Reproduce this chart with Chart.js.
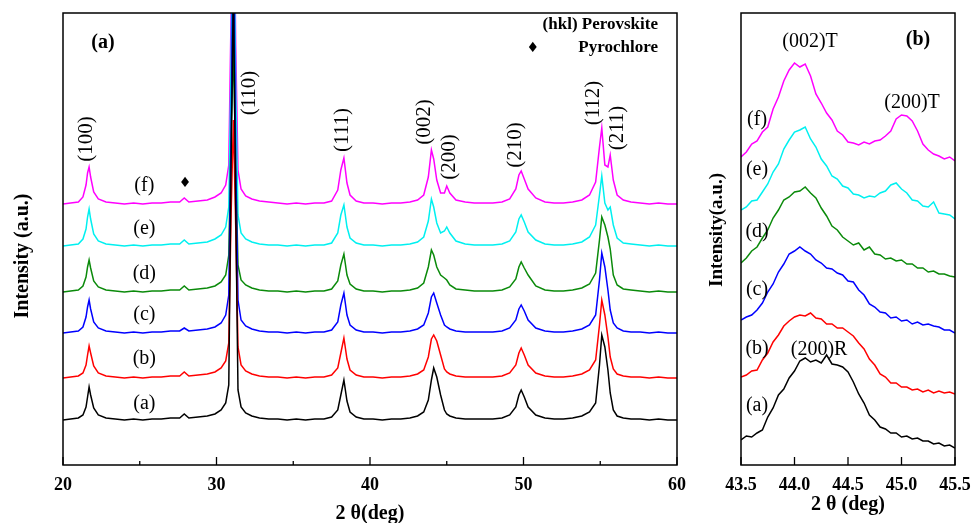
<!DOCTYPE html>
<html>
<head>
<meta charset="utf-8">
<script src="https://cdn.jsdelivr.net/npm/chart.js@4"></script>
<style>
  body { margin: 0; background: #fff; }
  #wrap { position: relative; width: 974px; height: 523px; }
  canvas { position: absolute; top: 0; }
</style>
</head>
<body>
<div id="wrap">
  <canvas id="chartA" width="700" height="523" style="left:0"></canvas>
  <canvas id="chartB" width="274" height="523" style="left:700px"></canvas>
</div>
<script>
// ---- panel (a): full pattern, 2θ in degrees ----
const twoThetaA = [20.0, 20.5, 21.0, 21.3, 21.5, 21.6, 21.7, 21.8, 22.0, 22.3, 22.8,
  23.4, 24.0, 24.6, 25.2, 25.8, 26.4, 27.0, 27.6, 27.9, 28.2, 28.8,
  29.4, 29.9, 30.3, 30.6, 30.8, 30.95, 31.1, 31.25, 31.4, 31.6, 31.9,
  32.3, 32.8, 33.4, 34.0, 34.6, 35.2, 35.8, 36.4, 37.0, 37.5, 37.9,
  38.1, 38.3, 38.5, 38.7, 39.1, 39.6, 40.2, 40.8, 41.4, 42.0, 42.6,
  43.1, 43.5, 43.8, 44.0, 44.15, 44.35, 44.6, 44.85, 45.0, 45.2, 45.6,
  46.2, 46.8, 47.4, 48.0, 48.6, 49.1, 49.5, 49.7, 49.85, 50.05, 50.3,
  50.8, 51.4, 52.0, 52.6, 53.2, 53.8, 54.3, 54.7, 54.95, 55.1, 55.3,
  55.5, 55.65, 55.85, 56.1, 56.5, 57.0, 57.6, 58.2, 58.8, 59.4, 60.0];

const patternA_a = [45, 46, 47, 50, 58, 68, 78, 70, 57, 50, 47,
  46, 45, 46, 45, 46, 46, 47, 47, 51, 47, 48,
  49, 51, 55, 62, 80, 300, 480, 260, 75, 58, 52,
  49, 47, 46, 46, 45, 46, 45, 46, 46, 48, 55,
  70, 85, 64, 53, 48, 46, 46, 45, 46, 46, 47,
  49, 53, 65, 85, 97, 88, 70, 55, 51, 49, 47,
  46, 46, 46, 46, 47, 50, 58, 70, 75, 68, 58,
  50, 47, 46, 46, 47, 49, 53, 62, 100, 130, 118,
  95, 72, 55, 49, 47, 46, 46, 45, 46, 45, 45];
const patternA_b = [87, 88, 89, 92, 100, 110, 119, 112, 99, 92, 89,
  88, 87, 88, 87, 88, 88, 89, 89, 93, 89, 90,
  91, 93, 97, 104, 122, 250, 345, 240, 118, 100, 94,
  91, 89, 88, 88, 87, 88, 87, 88, 88, 90, 97,
  112, 127, 106, 95, 90, 88, 88, 87, 88, 88, 89,
  91, 95, 108, 126, 130, 124, 110, 96, 93, 91, 89,
  88, 88, 88, 88, 89, 92, 100, 112, 117, 110, 100,
  92, 89, 88, 88, 89, 91, 95, 105, 140, 165, 150,
  128, 108, 96, 91, 89, 88, 88, 87, 88, 87, 87];
const patternA_c = [132, 133, 134, 138, 148, 158, 165, 156, 143, 137, 134,
  133, 132, 133, 132, 133, 133, 134, 134, 137, 134, 135,
  136, 138, 142, 150, 170, 330, 560, 300, 165, 145, 139,
  136, 134, 133, 133, 132, 133, 132, 133, 133, 135, 143,
  160, 172, 150, 140, 135, 133, 133, 132, 133, 133, 134,
  136, 140, 152, 168, 172, 162, 150, 140, 138, 136, 134,
  133, 133, 133, 133, 134, 137, 145, 156, 160, 154, 145,
  137, 134, 133, 133, 134, 136, 140, 150, 185, 212, 198,
  175, 155, 142, 137, 134, 133, 133, 132, 133, 132, 132];
const patternA_d = [173, 174, 175, 179, 188, 198, 205, 197, 184, 178, 175,
  174, 173, 174, 173, 174, 174, 175, 175, 179, 175, 176,
  177, 179, 183, 190, 210, 330, 418, 300, 200, 185, 180,
  177, 175, 174, 174, 173, 174, 173, 174, 174, 176, 184,
  200, 211, 190, 181, 176, 174, 174, 173, 174, 174, 175,
  177, 182, 198, 215, 210, 198, 190, 187, 185, 180, 176,
  175, 174, 174, 174, 175, 178, 186, 198, 203, 197, 190,
  179, 175, 174, 174, 175, 177, 181, 192, 225, 248, 240,
  228, 216, 190, 180, 176, 175, 174, 173, 174, 173, 173];
const patternA_e = [219, 220, 221, 226, 236, 248, 256, 246, 231, 224, 221,
  220, 219, 220, 219, 220, 220, 221, 221, 225, 221, 222,
  223, 226, 230, 238, 258, 400, 600, 380, 250, 232, 226,
  223, 221, 220, 220, 219, 220, 219, 220, 220, 222, 232,
  250, 260, 238, 227, 222, 220, 220, 219, 220, 220, 221,
  223, 228, 244, 266, 258, 242, 232, 234, 238, 232, 224,
  221, 220, 220, 220, 221, 224, 233, 246, 250, 243, 233,
  225, 221, 220, 220, 221, 223, 228, 240, 270, 289, 262,
  255, 258, 240, 227, 222, 221, 220, 219, 220, 219, 219];
const patternA_f = [261, 262, 263, 268, 280, 292, 298, 288, 273, 266, 263,
  262, 261, 262, 261, 262, 262, 263, 263, 267, 263, 264,
  265, 268, 272, 280, 300, 450, 650, 420, 295, 276, 269,
  266, 264, 263, 262, 261, 262, 261, 262, 262, 264, 275,
  295, 307, 282, 270, 264, 262, 262, 261, 262, 262, 263,
  265, 270, 288, 315, 306, 285, 272, 272, 279, 272, 265,
  263, 262, 262, 262, 263, 266, 276, 290, 294, 286, 276,
  267, 263, 262, 262, 263, 265, 270, 283, 318, 337, 300,
  298, 310, 285, 270, 265, 263, 262, 261, 262, 261, 261];

const xTicksA = [20, 25, 30, 35, 40, 45, 50, 55, 60];
const xTickLabelsA = ['20', '', '30', '', '40', '', '50', '', '60'];

// ---- panel (b): zoom on 43.5-45.5 ----
const twoThetaB = [43.50, 43.55, 43.60, 43.65, 43.70, 43.75, 43.80, 43.85, 43.90, 43.95,
  44.00, 44.05, 44.10, 44.15, 44.20, 44.25, 44.30, 44.35, 44.40, 44.45,
  44.50, 44.55, 44.60, 44.65, 44.70, 44.75, 44.80, 44.85, 44.90, 44.95,
  45.00, 45.05, 45.10, 45.15, 45.20, 45.25, 45.30, 45.35, 45.40, 45.45, 45.50];

const patternB_a = [25, 29, 28, 32, 35, 48, 57, 70, 76, 87, 94, 104, 107, 103, 105, 102, 110, 101, 100, 98,
  93, 83, 71, 62, 50, 45, 38, 36, 32, 32, 28, 29, 26, 27, 24, 24, 21, 22, 19, 20, 17];
const patternB_b = [88, 90, 94, 95, 105, 112, 123, 130, 139, 144, 148, 150, 149, 152, 147, 146, 141, 141, 137, 137,
  133, 129, 122, 116, 106, 100, 91, 88, 82, 82, 78, 78, 75, 76, 73, 75, 72, 74, 72, 73, 71];
const patternB_c = [145, 148, 150, 155, 162, 173, 181, 193, 201, 211, 214, 218, 214, 211, 205, 202, 197, 196, 192, 190,
  184, 183, 175, 170, 161, 158, 153, 152, 147, 148, 144, 145, 141, 143, 140, 141, 139, 138, 135, 135, 132];
const patternB_d = [202, 207, 214, 218, 227, 235, 247, 255, 265, 268, 273, 274, 278, 272, 267, 257, 249, 239, 235, 228,
  224, 220, 222, 215, 218, 211, 210, 206, 207, 204, 205, 201, 201, 197, 197, 193, 194, 191, 191, 189, 188];
const patternB_e = [255, 258, 264, 265, 273, 281, 293, 301, 316, 325, 333, 335, 338, 326, 318, 306, 299, 289, 286, 279,
  277, 271, 270, 267, 269, 268, 272, 274, 280, 282, 276, 272, 265, 264, 259, 258, 263, 252, 251, 250, 246];
const patternB_f = [308, 313, 321, 324, 333, 338, 356, 368, 384, 395, 402, 398, 401, 389, 371, 362, 352, 345, 334, 330,
  323, 322, 320, 323, 321, 324, 325, 329, 334, 346, 350, 349, 344, 334, 321, 315, 311, 309, 306, 308, 304];

const xTicksB = [43.5, 44.0, 44.5, 45.0, 45.5];
const xTickLabelsB = ['43.5', '44.0', '44.5', '45.0', '45.5'];

const sampleNames = ['(a)', '(b)', '(c)', '(d)', '(e)', '(f)'];
const colors = ['#000000', '#ff0000', '#0000ff', '#0a8a0a', '#00f0f0', '#ff00ff'];

const SERIF = '"Liberation Serif", "Times New Roman", serif';

function pts(xs, ys) {
  return xs.map((x, i) => ({ x: x, y: ys[i] }));
}

function makeDatasets(xs, list) {
  return list.map((ys, i) => ({
    label: sampleNames[i],
    data: pts(xs, ys),
    borderColor: colors[i],
    borderWidth: 1.5,
    pointRadius: 0,
    tension: 0,
    fill: false
  }));
}

// frame, inward tick marks and free text
const decoPlugin = {
  id: 'deco',
  afterDraw(chart, args, opts) {
    const ctx = chart.ctx;
    const area = chart.chartArea;
    const xs = chart.scales.x;
    const ys = chart.scales.y;
    ctx.save();
    ctx.strokeStyle = '#000';
    ctx.lineWidth = 1.5;
    ctx.strokeRect(area.left, area.top, area.right - area.left, area.bottom - area.top);
    ctx.lineWidth = 1.3;
    opts.ticks.forEach((v, i) => {
      const px = xs.getPixelForValue(v);
      const len = opts.labels[i] ? 8 : 4;
      ctx.beginPath();
      ctx.moveTo(px, area.bottom);
      ctx.lineTo(px, area.bottom - len);
      ctx.stroke();
    });
    ctx.fillStyle = '#000';
    ctx.textBaseline = 'middle';
    opts.texts.forEach(t => {
      const px = t.px !== undefined ? t.px : xs.getPixelForValue(t.x);
      const py = t.py !== undefined ? t.py : ys.getPixelForValue(t.y);
      ctx.save();
      ctx.translate(px, py);
      if (t.rot) ctx.rotate(t.rot);
      ctx.font = t.font;
      ctx.textAlign = t.align || 'center';
      ctx.fillText(t.text, 0, 0);
      ctx.restore();
    });
    ctx.restore();
  }
};

const hklFont = '21px ' + SERIF;
const tagFont = '20px ' + SERIF;
const UP = -Math.PI / 2;

function fitX(s) {
  s.height = 58;
  s.paddingLeft = 0;
  s.paddingRight = 0;
}

new Chart(document.getElementById('chartA'), {
  type: 'line',
  data: {
    datasets: makeDatasets(twoThetaA, [patternA_a, patternA_b, patternA_c, patternA_d, patternA_e, patternA_f])
  },
  options: {
    responsive: false,
    animation: false,
    layout: { padding: { left: 63, right: 23, top: 13, bottom: 0 } },
    plugins: {
      legend: { display: false },
      tooltip: { enabled: false },
      deco: {
        ticks: xTicksA,
        labels: xTickLabelsA,
        texts: [
          { text: 'Intensity (a.u.)', px: 23, py: 256, rot: UP, font: 'bold 20px ' + SERIF },
          { text: '(a)', x: 22.6, y: 422, font: 'bold 20px ' + SERIF },
          { text: '(hkl) Perovskite', x: 58.76, y: 440, align: 'right', font: 'bold 17px ' + SERIF },
          { text: 'Pyrochlore', x: 58.76, y: 417, align: 'right', font: 'bold 17px ' + SERIF },
          { text: '\u2666', x: 50.6, y: 417, font: '14px "DejaVu Sans"' },
          { text: '\u2666', x: 27.95, y: 282, font: '14px "DejaVu Sans"' },
          { text: '(100)', x: 21.56, y: 326, rot: UP, font: hklFont },
          { text: '(110)', x: 32.18, y: 372, rot: UP, font: hklFont },
          { text: '(111)', x: 38.24, y: 335, rot: UP, font: hklFont },
          { text: '(002)', x: 43.58, y: 343, rot: UP, font: hklFont },
          { text: '(200)', x: 45.21, y: 308, rot: UP, font: hklFont },
          { text: '(210)', x: 49.45, y: 320, rot: UP, font: hklFont },
          { text: '(112)', x: 54.53, y: 362, rot: UP, font: hklFont },
          { text: '(211)', x: 56.1, y: 337, rot: UP, font: hklFont },
          { text: '(f)', x: 25.3, y: 279, font: tagFont },
          { text: '(e)', x: 25.3, y: 236, font: tagFont },
          { text: '(d)', x: 25.3, y: 191, font: tagFont },
          { text: '(c)', x: 25.3, y: 150, font: tagFont },
          { text: '(b)', x: 25.3, y: 106, font: tagFont },
          { text: '(a)', x: 25.3, y: 61, font: tagFont }
        ]
      }
    },
    scales: {
      x: {
        type: 'linear',
        min: 20,
        max: 60,
        afterBuildTicks: s => { s.ticks = xTicksA.map(v => ({ value: v })); },
        afterFit: fitX,
        grid: { display: false, drawTicks: false },
        border: { display: false },
        ticks: {
          autoSkip: false,
          maxRotation: 0,
          padding: 10,
          color: '#000',
          font: { family: SERIF, size: 18, weight: 'bold' },
          callback: (v, i) => xTickLabelsA[i]
        },
        title: {
          display: true,
          text: '2 \u03b8(deg)',
          color: '#000',
          font: { family: SERIF, size: 20, weight: 'bold' },
          padding: { top: 0, bottom: -3 }
        }
      },
      y: { display: false, min: 0, max: 452 }
    }
  },
  plugins: [decoPlugin]
});

new Chart(document.getElementById('chartB'), {
  type: 'line',
  data: {
    datasets: makeDatasets(twoThetaB, [patternB_a, patternB_b, patternB_c, patternB_d, patternB_e, patternB_f])
  },
  options: {
    responsive: false,
    animation: false,
    layout: { padding: { left: 41, right: 19, top: 13, bottom: 0 } },
    plugins: {
      legend: { display: false },
      tooltip: { enabled: false },
      deco: {
        ticks: xTicksB,
        labels: xTickLabelsB,
        texts: [
          { text: 'Intensity(a.u.)', px: 17, py: 230, rot: UP, font: 'bold 19px ' + SERIF },
          { text: '(002)T', x: 44.145, y: 423, font: tagFont },
          { text: '(b)', x: 45.154, y: 425, font: 'bold 20px ' + SERIF },
          { text: '(200)T', x: 45.098, y: 362, font: tagFont },
          { text: '(200)R', x: 44.23, y: 115, font: tagFont },
          { text: '(f)', x: 43.65, y: 345, font: tagFont },
          { text: '(e)', x: 43.65, y: 295, font: tagFont },
          { text: '(d)', x: 43.65, y: 233, font: tagFont },
          { text: '(c)', x: 43.65, y: 175, font: tagFont },
          { text: '(b)', x: 43.65, y: 116, font: tagFont },
          { text: '(a)', x: 43.65, y: 59, font: tagFont }
        ]
      }
    },
    scales: {
      x: {
        type: 'linear',
        min: 43.5,
        max: 45.5,
        afterBuildTicks: s => { s.ticks = xTicksB.map(v => ({ value: v })); },
        afterFit: fitX,
        grid: { display: false, drawTicks: false },
        border: { display: false },
        ticks: {
          autoSkip: false,
          maxRotation: 0,
          padding: 10,
          color: '#000',
          font: { family: SERIF, size: 18, weight: 'bold' },
          callback: (v, i) => xTickLabelsB[i]
        },
        title: {
          display: true,
          text: '2 \u03b8 (deg)',
          color: '#000',
          font: { family: SERIF, size: 20, weight: 'bold' },
          padding: { top: 0, bottom: 6 }
        }
      },
      y: { display: false, min: 0, max: 452 }
    }
  },
  plugins: [decoPlugin]
});
</script>
</body>
</html>
